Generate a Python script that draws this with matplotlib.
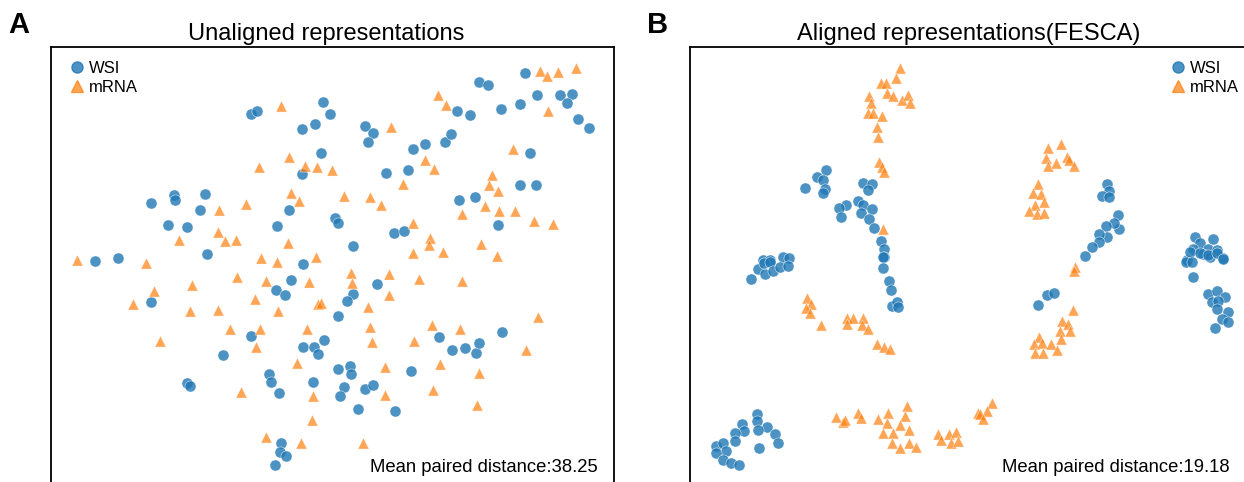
import matplotlib
matplotlib.use("Agg")
import matplotlib.pyplot as plt
from matplotlib.lines import Line2D

plt.rcParams['font.family'] = ['Liberation Sans', 'DejaVu Sans']

# ── Embedding coordinates (panel units, y grows downward) ──
# Panel A: unaligned
a_wsi_x = [251, 257, 302, 315, 323, 330, 302, 321, 151, 174, 175, 205, 200, 289, 168, 187, 277, 207,
           95, 118, 303, 291, 276, 285, 151, 251, 223, 303, 314, 318, 269, 271, 187, 190, 279, 313,
           281, 280, 286, 275,
           525, 479, 488, 365, 373, 368, 457, 470, 501, 520, 537, 560, 572, 567, 578, 589, 413, 425,
           445, 451, 386, 408, 530, 520, 536, 459, 475, 335, 338, 498, 394, 404, 353,
           377, 353, 347, 338, 324, 439, 452, 465, 476, 479, 502, 338, 350, 351, 411, 344, 340, 365,
           373, 358, 395]
a_wsi_y = [114, 111, 129, 124, 102, 114, 174, 153, 203, 195, 200, 194, 210, 210, 225, 227, 226, 254,
           261, 258, 264, 280, 290, 295, 302, 336, 355, 347, 347, 354, 374, 382, 383, 386, 393, 382,
           443, 452, 456, 465,
           73, 82, 85, 126, 133, 142, 111, 115, 109, 104, 95, 95, 94, 103, 119, 128, 149, 144,
           142, 134, 173, 170, 153, 185, 185, 200, 197, 218, 223, 225, 233, 231, 246,
           284, 294, 301, 316, 340, 337, 350, 348, 353, 343, 332, 369, 366, 374, 371, 387, 396, 389,
           385, 409, 411]
a_mrna_x = [281, 289, 259, 305, 317, 291, 299, 246, 219, 218, 225, 236, 179, 288, 77, 146, 261, 277,
            237, 266, 309, 192, 154, 133, 255, 318, 190, 218, 278, 230, 260, 307, 256, 160, 297, 241,
            313, 312, 266, 301,
            540, 547, 558, 576, 438, 446, 391, 548, 513, 332, 425, 434, 403, 492, 489, 498, 344, 370,
            381, 462, 485, 499, 515, 534, 553, 413, 430, 429, 413, 443, 481, 497, 316,
            351, 352, 389, 419, 462, 321, 389, 368, 370, 372, 414, 432, 460, 538, 526, 440, 385, 479,
            385, 433, 477, 363]
a_mrna_y = [106, 157, 167, 166, 167, 193, 201, 204, 210, 232, 241, 240, 240, 243, 260, 263, 258, 262,
            277, 281, 282, 285, 291, 304, 299, 304, 311, 310, 311, 329, 329, 329, 347, 341, 363, 392,
            396, 420, 437, 443,
            71, 76, 72, 68, 95, 105, 127, 111, 149, 170, 160, 169, 184, 175, 185, 191, 196, 197,
            205, 214, 206, 211, 211, 221, 224, 223, 238, 245, 253, 252, 244, 256, 257,
            273, 283, 274, 279, 281, 303, 295, 307, 327, 342, 341, 325, 329, 317, 350, 364, 367, 373,
            395, 390, 405, 443]

# Panel B: aligned (FESCA)
b_wsi_x = [826, 817, 823, 805, 825, 823, 863, 872, 868, 858, 863, 846, 839, 841, 872, 861, 869, 874,
           881, 884, 884, 763, 770, 783, 789,
           751, 758, 765, 764, 770, 773, 780, 788, 883, 883, 889, 891, 892, 897, 898,
           757, 757, 767, 742, 744, 735, 758, 775, 735, 778, 759, 716, 723, 726, 716, 723, 731, 739,
           1107, 1109, 1102, 1109, 1118, 1119, 1114, 1106, 1107, 1099, 1099, 1092, 1085,
           1195, 1213, 1200, 1193, 1208, 1217, 1203, 1210, 1187, 1223,
           1190, 1200, 1208, 1217, 1223, 1186, 1192, 1193,
           1208, 1217, 1225, 1212, 1218, 1217, 1228, 1222, 1228, 1215, 1038, 1047, 1054]
b_wsi_y = [170, 177, 180, 188, 189, 193, 183, 184, 190, 201, 205, 205, 208, 217, 209, 213, 219, 228,
           241, 249, 257, 260, 260, 257, 258,
           279, 269, 274, 263, 262, 271, 267, 266, 257, 268, 281, 290, 306, 302, 307,
           414, 421, 427, 424, 431, 433, 430, 434, 441, 443, 448, 446, 443, 451, 453, 460, 463, 465,
           184, 191, 196, 197, 215, 229, 223, 226, 237, 234, 242, 247, 256,
           237, 239, 243, 249, 249, 250, 254, 257, 260, 258,
           252, 253, 255, 253, 259, 262, 262, 277,
           294, 291, 297, 302, 301, 309, 312, 319, 322, 328, 305, 295, 293]
b_mrna_x = [900, 896, 881, 886, 887, 893, 869, 871, 902, 908, 910, 868, 873, 882, 877, 878, 879, 882,
            884, 883,
            807, 811, 806, 810, 821, 847, 853, 847, 863, 862, 868, 877, 884, 890,
            836, 843, 845, 858, 861, 878, 888, 907, 905, 887, 900, 883, 893, 909, 892, 900, 909, 916,
            938, 941, 949, 956, 951, 958, 978,
            1048, 1061, 1046, 1048, 1056, 1067, 1069, 1074,
            1038, 1033, 1041, 1044, 1035, 1029, 1037, 1044,
            1075, 1074, 1073, 1062, 1068, 1060, 1070, 1061,
            1039, 1034, 1042, 1051, 1057, 1035, 1043, 992, 987, 980, 983]
b_mrna_y = [68, 78, 83, 83, 93, 96, 96, 103, 100, 95, 103, 113, 113, 116, 127, 137, 162, 167,
            172, 229,
            298, 304, 308, 313, 325, 318, 318, 324, 318, 325, 329, 344, 347, 349,
            417, 422, 420, 413, 418, 419, 413, 406, 416, 423, 425, 433, 433, 430, 443, 448, 443, 447,
            434, 440, 434, 432, 443, 441, 413,
            148, 144, 158, 166, 163, 157, 160, 166,
            184, 193, 194, 202, 205, 211, 214, 213,
            267, 271, 310, 321, 324, 331, 331, 339,
            337, 344, 343, 344, 350, 353, 353, 403, 411, 414, 419]

titles = ['Unaligned representations', 'Aligned representations(FESCA)']
letters = ['A', 'B']
distances = [38.25, 19.18]

blue = '#1f77b4'
orange = '#ff7f0e'

W, H = 1244, 482
fig = plt.figure(figsize=(W / 100, H / 100), dpi=100)

# left edge (px), data, legend anchor, title x, x of the distance label
panels = [
    (51, (a_wsi_x, a_wsi_y, a_mrna_x, a_mrna_y), ('upper left', (0.011, 0.994)), 0.488, 0.972),
    (690, (b_wsi_x, b_wsi_y, b_mrna_x, b_mrna_y), ('upper right', (0.995, 0.994)), 0.495, 0.959),
]
pw, top, bottom = 563, 47, 486

for i, (left, (wx, wy, mx, my), (loc, anchor), ttx, tx) in enumerate(panels):
    ax = fig.add_axes([left / W, 1 - bottom / H, pw / W, (bottom - top) / H])
    ax.scatter(wx, wy, s=64, marker='o', color=blue, alpha=0.8,
               edgecolors='white', linewidths=0.4, label='WSI')
    ax.scatter(mx, my, s=64, marker='^', color=orange, alpha=0.7,
               edgecolors='white', linewidths=0.4, label='mRNA')
    ax.set_xlim(left, left + pw)
    ax.set_ylim(bottom, top)
    ax.set_xticks([])
    ax.set_yticks([])
    for sp in ax.spines.values():
        sp.set_linewidth(1.3)
    ax.set_title(titles[i], fontsize=17, pad=5, x=ttx)

    handles = [Line2D([], [], marker='o', ls='', color=blue, alpha=0.8, markersize=8),
               Line2D([], [], marker='^', ls='', color=orange, alpha=0.7, markersize=8)]
    ax.legend(handles, ['WSI', 'mRNA'], loc=loc, bbox_to_anchor=anchor, frameon=False,
              fontsize=12, handletextpad=0.2, borderaxespad=0.3, labelspacing=0.2,
              handlelength=1.0)

    ax.text(tx, 0.022, f'Mean paired distance:{distances[i]}', transform=ax.transAxes,
            ha='right', va='bottom', fontsize=13.3)

    fig.text((left - 43) / W, 1 - 33 / H, letters[i], fontsize=21, fontweight='bold',
             ha='left', va='baseline')

fig.savefig('out.png', dpi=100)
